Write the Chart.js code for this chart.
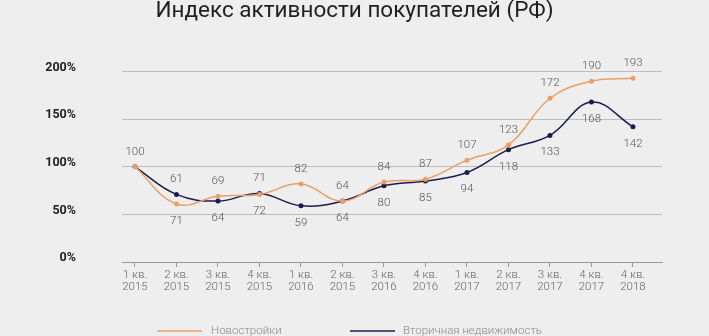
<!DOCTYPE html>
<html>
<head>
<meta charset="utf-8">
<script src="https://cdn.jsdelivr.net/npm/chart.js@4.4.1/dist/chart.umd.min.js"></script>
<style>
  html, body { margin: 0; padding: 0; background: #eeeeee; }
  #wrap { width: 709px; height: 336px; }
</style>
</head>
<body>
<div id="wrap"><canvas id="chart" width="709" height="336"></canvas></div>
<script>
"use strict";

// кварталы и годы подписей оси X
const quarters = ['1 кв.', '2 кв.', '3 кв.', '4 кв.', '1 кв.', '2 кв.', '3 кв.', '4 кв.', '1 кв.', '2 кв.', '3 кв.', '4 кв.', '4 кв.'];
const years = ['2015', '2015', '2015', '2015', '2016', '2015', '2016', '2016', '2017', '2017', '2017', '2017', '2018'];

const novostroyki = [100, 61, 69, 71, 82, 64, 84, 87, 107, 123, 172, 190, 193];
const vtorichka = [100, 71, 64, 72, 59, 64, 80, 85, 94, 118, 133, 168, 142];

const yTicks = [0, 50, 100, 150, 200];

const orange = '#e9a068';
const navy = '#1c1c4e';

// подписи значений: верхняя — новостройки, нижняя — вторичка
const valueLabels = {
	id: 'valueLabels',
	afterDatasetsDraw(chart) {
		const ctx = chart.ctx;
		const a = chart.getDatasetMeta(0).data;
		const b = chart.getDatasetMeta(1).data;
		ctx.save();
		ctx.font = '300 11.5px Roboto';
		ctx.fillStyle = '#555';
		ctx.textAlign = 'center';
		ctx.textBaseline = 'middle';
		for (let i = 0; i < a.length; i++) {
			const top = Math.min(a[i].y, b[i].y);
			const bottom = Math.max(a[i].y, b[i].y);
			ctx.fillText(novostroyki[i], a[i].x, top - 15);
			if (i === 0) continue; // общая стартовая точка подписана один раз
			ctx.fillText(vtorichka[i], b[i].x, bottom + 17);
		}
		ctx.restore();
	}
};

// легенда внизу
const bottomLegend = {
	id: 'bottomLegend',
	afterDraw(chart) {
		const ctx = chart.ctx;
		const items = [
			{ x: 157, textX: 211 },
			{ x: 350, textX: 403 }
		];
		ctx.save();
		ctx.font = '300 11.5px Roboto';
		ctx.textBaseline = 'middle';
		chart.data.datasets.forEach(function (ds, i) {
			const it = items[i];
			ctx.strokeStyle = ds.borderColor;
			ctx.lineWidth = 1.5;
			ctx.beginPath();
			ctx.moveTo(it.x, 331);
			ctx.lineTo(it.x + 45, 331);
			ctx.stroke();
			ctx.fillStyle = '#888';
			ctx.fillText(ds.label, it.textX, 331);
		});
		ctx.restore();
	}
};

const ctx = document.getElementById('chart');

new Chart(ctx, {
	type: 'line',
	data: {
		datasets: [{
			label: 'Новостройки',
			data: novostroyki.map((v, i) => ({ x: i, y: v })),
			borderColor: orange,
			backgroundColor: orange,
			borderWidth: 1.5,
			pointRadius: 2.5,
			pointBorderWidth: 0,
			tension: 0.4,
			clip: false
		}, {
			label: 'Вторичная недвижимость',
			data: vtorichka.map((v, i) => ({ x: i, y: v })),
			borderColor: navy,
			backgroundColor: navy,
			borderWidth: 1.5,
			pointRadius: 2.5,
			pointBorderWidth: 0,
			tension: 0.4,
			clip: false
		}]
	},
	options: {
		responsive: false,
		animation: false,
		layout: { padding: 0 },
		plugins: {
			legend: { display: false },
			tooltip: { enabled: false },
			title: {
				display: true,
				text: 'Индекс активности покупателей (РФ)',
				color: '#1f1f1f',
				font: { family: 'Roboto', size: 22.5, weight: '400', lineHeight: 1.05 },
				padding: { top: 0, bottom: 48 }
			}
		},
		scales: {
			x: {
				type: 'linear',
				min: -0.313,
				max: 12.7,
				afterFit(scale) { scale.height = 74; },
				grid: {
					drawOnChartArea: false,
					drawTicks: true,
					tickLength: 5,
					color: '#999'
				},
				border: { display: true, color: '#999' },
				ticks: {
					stepSize: 1,
					includeBounds: false,
					autoSkip: false,
					maxRotation: 0,
					padding: 2,
					color: '#666',
					font: { family: 'Roboto', size: 11.5, weight: '300', lineHeight: 1.05 },
					callback: function (v) {
						if (!Number.isInteger(v) || v < 0 || v >= quarters.length) return '';
						return [quarters[v], years[v]];
					}
				}
			},
			y: {
				min: 0,
				max: 200,
				afterFit(scale) { scale.width = 122; },
				afterBuildTicks(scale) {
					scale.ticks = yTicks.map(v => ({ value: v }));
				},
				grid: {
					drawTicks: false,
					color: '#bcbcbc',
					lineWidth: 1
				},
				border: { display: false },
				ticks: {
					padding: 46,
					labelOffset: -4,
					color: '#222',
					font: { family: 'Roboto', size: 12.5, weight: '700' },
					callback: v => v + '%'
				}
			},
			// пустое поле справа, чтобы заголовок стоял по центру холста
			yRight: {
				position: 'right',
				min: 0,
				max: 200,
				afterFit(scale) { scale.width = 47; },
				grid: { display: false },
				border: { display: false },
				ticks: { display: false }
			}
		}
	},
	plugins: [valueLabels, bottomLegend]
});
</script>
</body>
</html>
